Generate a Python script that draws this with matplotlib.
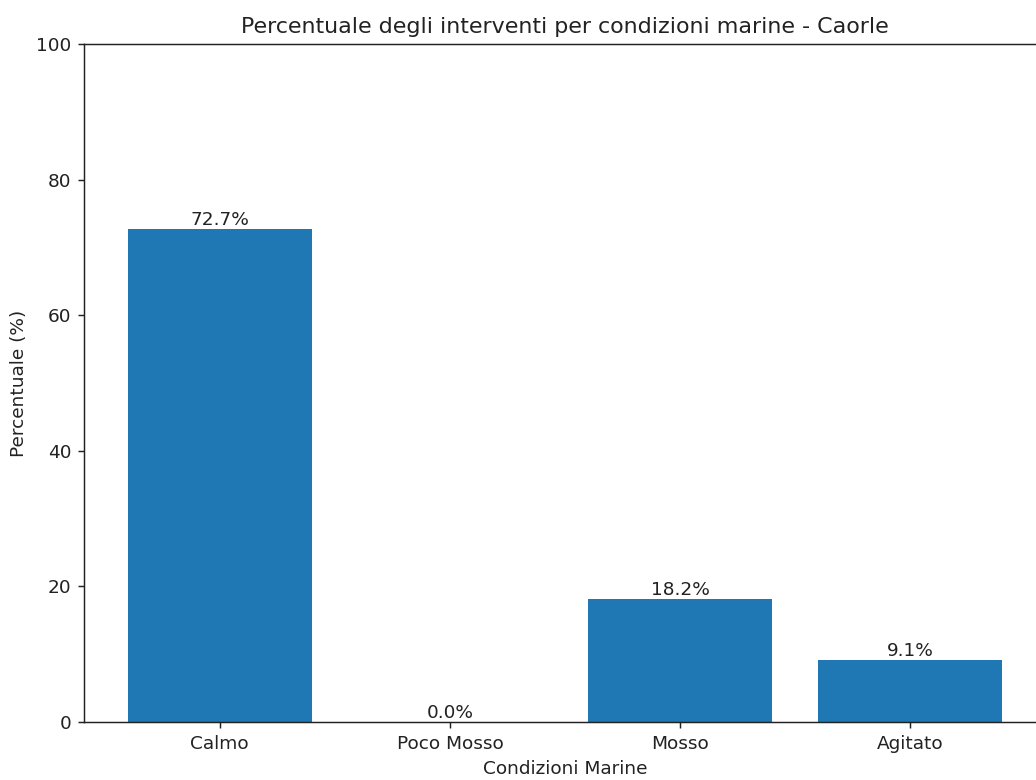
import matplotlib
matplotlib.use('Agg')
import matplotlib.pyplot as plt

conditions = ['Calmo', 'Poco Mosso', 'Mosso', 'Agitato']
percentages = [72.7, 0.0, 18.2, 9.1]

s = 1.33  # the reference text and strokes are drawn about a third larger
txt = '#222222'
plt.rcParams.update({
    'font.size': 10 * s,
    'axes.titlesize': 12 * s,
    'axes.labelsize': 10 * s,
    'axes.linewidth': 0.8 * s,
    'axes.titlepad': 6 * s,
    'axes.labelpad': 4 * s,
    'xtick.major.size': 3.5 * s,
    'ytick.major.size': 3.5 * s,
    'xtick.major.width': 0.8 * s,
    'ytick.major.width': 0.8 * s,
    'xtick.major.pad': 3.5 * s,
    'ytick.major.pad': 3.5 * s,
    'text.color': txt,
    'axes.labelcolor': txt,
    'xtick.labelcolor': txt,
    'ytick.labelcolor': txt,
    'axes.titlecolor': txt,
    'axes.edgecolor': txt,
    'xtick.color': txt,
    'ytick.color': txt,
})

fig = plt.figure(figsize=(10.36, 7.8), dpi=100)
# right spine of the original falls just outside the visible canvas
ax = fig.add_axes([84 / 1036, 58 / 780, (1046 - 84) / 1036, (722 - 44) / 780])

bars = ax.bar(conditions, percentages, color='#1f77b4')
for b, v in zip(bars, percentages):
    ax.text(b.get_x() + b.get_width() / 2, v, f'{v:.1f}%', ha='center', va='bottom')

ax.set_ylim(0, 100)
ax.set_title('Percentuale degli interventi per condizioni marine - Caorle')
ax.set_xlabel('Condizioni Marine')
ax.set_ylabel('Percentuale (%)')

fig.savefig('out.png', dpi=100)
